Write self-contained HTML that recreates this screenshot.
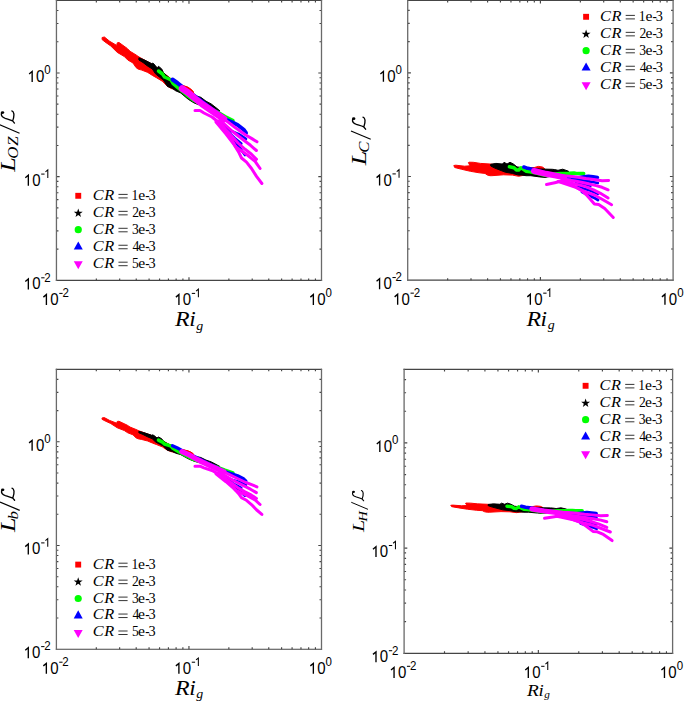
<!DOCTYPE html>
<html><head><meta charset="utf-8"><style>
html,body{margin:0;padding:0;background:#fff;width:685px;height:701px;overflow:hidden}
svg{display:block}
text{font-kerning:none}
</style></head><body>
<svg width="685" height="701" viewBox="0 0 685 701">
<rect width="685" height="701" fill="#fff"/>
<polygon points="102.10,37.50 104.40,37.00 109.70,41.30 116.70,45.40 117.30,42.80 119.00,42.50 127.20,48.40 130.10,51.30 136.00,54.90 139.00,57.00 150.00,63.00 160.00,70.00 170.00,78.00 178.00,83.00 182.50,86.00 187.80,87.30 193.00,91.50 193.80,94.20 190.00,95.00 183.00,92.00 176.00,90.00 171.20,88.50 167.00,85.90 162.30,81.20 156.40,77.70 152.40,75.40 147.70,72.40 141.80,70.10 138.00,69.00 136.00,67.50 133.00,63.00 127.80,60.00 124.30,56.50 117.30,52.40 110.80,46.00 105.00,41.90 102.10,39.60" fill="#ff0000" stroke="#ff0000" stroke-width="1" stroke-linejoin="round"/>
<polygon points="138.90,57.80 143.60,59.60 151.80,63.70 152.90,63.10 155.30,65.40 157.00,67.80 158.50,66.30 161.70,68.90 163.40,72.40 166.40,75.40 172.00,80.00 182.00,87.00 195.00,95.50 200.80,97.30 206.00,101.20 211.30,104.00 217.10,108.60 220.00,111.00 212.00,110.00 205.00,106.00 198.00,104.50 194.20,103.00 188.40,99.40 180.80,93.00 175.50,90.70 172.20,88.20 167.50,86.50 163.40,80.00 159.40,77.10 155.30,73.60 152.40,69.00 147.50,66.00 143.00,62.50 138.90,60.00" fill="#000000" stroke="#000000" stroke-width="1" stroke-linejoin="round"/>
<polyline points="158.50,71.00 162.50,74.00 164.50,77.00 168.00,78.50 171.00,80.00 173.00,83.50 177.00,87.00 186.60,95.00 194.00,100.50 205.00,106.00 217.00,111.80 225.00,116.50 233.00,120.50" fill="none" stroke="#00ff00" stroke-width="3.5" stroke-linejoin="round" stroke-linecap="round"/>
<polyline points="172.50,79.50 177.50,83.00 182.00,86.50 190.00,92.50 200.00,100.00 210.00,107.50 219.00,114.00 226.00,119.50 231.80,122.00 237.70,125.00 243.50,129.50 246.00,133.00" fill="none" stroke="#0000ff" stroke-width="4.0" stroke-linejoin="round" stroke-linecap="round"/>
<polyline points="222.00,124.00 231.80,131.30 238.80,134.20 245.90,138.90" fill="none" stroke="#0000ff" stroke-width="2.8" stroke-linejoin="round" stroke-linecap="round"/>
<polyline points="226.00,130.00 234.80,138.30 241.20,143.50" fill="none" stroke="#0000ff" stroke-width="2.8" stroke-linejoin="round" stroke-linecap="round"/>
<polyline points="232.00,138.00 238.50,146.00 242.00,151.00 245.00,155.00" fill="none" stroke="#0000ff" stroke-width="2.8" stroke-linejoin="round" stroke-linecap="round"/>
<polygon points="181.50,86.50 184.00,85.80 187.80,87.20 191.00,89.20 193.20,91.50 193.80,94.20 190.00,93.50 185.00,91.00" fill="#ff0000" stroke="#ff0000" stroke-width="1" stroke-linejoin="round"/>
<polyline points="182.00,88.50 188.00,92.50 195.00,98.50 202.00,104.00 210.00,109.50 218.00,115.00 224.00,119.00" fill="none" stroke="#ff00ff" stroke-width="6.5" stroke-linejoin="round" stroke-linecap="round"/>
<polyline points="222.00,118.00 228.00,122.00 234.80,127.20 245.30,134.80 252.30,138.90 257.00,141.80" fill="none" stroke="#ff00ff" stroke-width="3.0" stroke-linejoin="round" stroke-linecap="round"/>
<polyline points="220.00,120.00 232.00,131.00 243.50,140.00 250.50,145.30 256.40,150.50" fill="none" stroke="#ff00ff" stroke-width="3.0" stroke-linejoin="round" stroke-linecap="round"/>
<polyline points="218.00,121.00 228.00,132.00 238.00,143.00 245.10,149.30 251.50,154.30 256.50,159.30" fill="none" stroke="#ff00ff" stroke-width="3.0" stroke-linejoin="round" stroke-linecap="round"/>
<polyline points="216.00,122.00 226.00,134.00 236.00,147.00 247.30,155.00 255.10,161.40 260.10,168.50" fill="none" stroke="#ff00ff" stroke-width="3.0" stroke-linejoin="round" stroke-linecap="round"/>
<polyline points="195.00,110.50 200.00,110.50 204.00,113.00 212.00,117.00 217.00,121.00 222.40,126.00 227.00,132.00 232.00,140.00 235.50,147.00 238.70,152.10 241.50,158.00 246.50,162.10 251.50,168.50 256.50,176.40 261.90,183.50" fill="none" stroke="#ff00ff" stroke-width="3.0" stroke-linejoin="round" stroke-linecap="round"/>
<path d="M96.34,280.40V278.40M96.34,0.45V2.45M119.68,280.40V278.40M119.68,0.45V2.45M136.24,280.40V278.40M136.24,0.45V2.45M149.08,280.40V278.40M149.08,0.45V2.45M159.57,280.40V278.40M159.57,0.45V2.45M168.45,280.40V278.40M168.45,0.45V2.45M176.13,280.40V278.40M176.13,0.45V2.45M182.91,280.40V278.40M182.91,0.45V2.45M188.98,280.40V277.20M188.98,0.45V3.65M228.87,280.40V278.40M228.87,0.45V2.45M252.21,280.40V278.40M252.21,0.45V2.45M268.76,280.40V278.40M268.76,0.45V2.45M281.61,280.40V278.40M281.61,0.45V2.45M292.10,280.40V278.40M292.10,0.45V2.45M300.97,280.40V278.40M300.97,0.45V2.45M308.66,280.40V278.40M308.66,0.45V2.45M315.44,280.40V278.40M315.44,0.45V2.45M56.45,249.18H58.45M321.50,249.18H319.50M56.45,230.91H58.45M321.50,230.91H319.50M56.45,217.95H58.45M321.50,217.95H319.50M56.45,207.90H58.45M321.50,207.90H319.50M56.45,199.69H58.45M321.50,199.69H319.50M56.45,192.74H58.45M321.50,192.74H319.50M56.45,186.73H58.45M321.50,186.73H319.50M56.45,181.42H58.45M321.50,181.42H319.50M56.45,176.68H59.65M321.50,176.68H318.30M56.45,145.45H58.45M321.50,145.45H319.50M56.45,127.19H58.45M321.50,127.19H319.50M56.45,114.23H58.45M321.50,114.23H319.50M56.45,104.17H58.45M321.50,104.17H319.50M56.45,95.96H58.45M321.50,95.96H319.50M56.45,89.02H58.45M321.50,89.02H319.50M56.45,83.00H58.45M321.50,83.00H319.50M56.45,77.70H58.45M321.50,77.70H319.50M56.45,72.95H59.65M321.50,72.95H318.30M56.45,41.73H58.45M321.50,41.73H319.50M56.45,23.46H58.45M321.50,23.46H319.50M56.45,10.50H58.45M321.50,10.50H319.50" stroke="#454545" stroke-width="1.15" fill="none"/>
<path d="M55.85,0.45H322.10M55.85,280.40H322.10" stroke="#454545" stroke-width="1.15" fill="none"/>
<path d="M56.45,-0.15V281.00M321.50,-0.15V281.00" stroke="#6a6a6a" stroke-width="1.3" fill="none"/>
<g transform="translate(41.90,305.00) scale(1,1.04)"><path d="M1.47,-7.58L4.50,-10.02V-0.00" stroke="#000" stroke-width="1.35" fill="none" stroke-linejoin="miter"/><text x="8.34" y="0" font-family='"Liberation Sans", sans-serif' font-size="15" fill="#000">0</text><rect x="17.37" y="-11.64" width="3.33" height="0.98" fill="#000"/><text x="20.51" y="-7.50" font-family='"Liberation Sans", sans-serif' font-size="11.5" fill="#000">2</text></g>
<g transform="translate(23.84,289.40) scale(1,1.04)"><path d="M1.47,-7.58L4.50,-10.02V-0.00" stroke="#000" stroke-width="1.35" fill="none" stroke-linejoin="miter"/><text x="8.34" y="0" font-family='"Liberation Sans", sans-serif' font-size="15" fill="#000">0</text><rect x="17.37" y="-11.64" width="3.33" height="0.98" fill="#000"/><text x="20.51" y="-7.50" font-family='"Liberation Sans", sans-serif' font-size="11.5" fill="#000">2</text></g>
<g transform="translate(174.42,305.00) scale(1,1.04)"><path d="M1.47,-7.58L4.50,-10.02V-0.00" stroke="#000" stroke-width="1.35" fill="none" stroke-linejoin="miter"/><text x="8.34" y="0" font-family='"Liberation Sans", sans-serif' font-size="15" fill="#000">0</text><rect x="17.37" y="-11.64" width="3.33" height="0.98" fill="#000"/><path d="M21.64,-13.31L23.96,-15.18V-7.50" stroke="#000" stroke-width="1.03" fill="none" stroke-linejoin="miter"/></g>
<g transform="translate(23.84,185.68) scale(1,1.04)"><path d="M1.47,-7.58L4.50,-10.02V-0.00" stroke="#000" stroke-width="1.35" fill="none" stroke-linejoin="miter"/><text x="8.34" y="0" font-family='"Liberation Sans", sans-serif' font-size="15" fill="#000">0</text><rect x="17.37" y="-11.64" width="3.33" height="0.98" fill="#000"/><path d="M21.64,-13.31L23.96,-15.18V-7.50" stroke="#000" stroke-width="1.03" fill="none" stroke-linejoin="miter"/></g>
<g transform="translate(308.86,305.00) scale(1,1.04)"><path d="M1.47,-7.58L4.50,-10.02V-0.00" stroke="#000" stroke-width="1.35" fill="none" stroke-linejoin="miter"/><text x="8.34" y="0" font-family='"Liberation Sans", sans-serif' font-size="15" fill="#000">0</text><text x="16.68" y="-7.50" font-family='"Liberation Sans", sans-serif' font-size="11.5" fill="#000">0</text></g>
<g transform="translate(27.67,81.95) scale(1,1.04)"><path d="M1.47,-7.58L4.50,-10.02V-0.00" stroke="#000" stroke-width="1.35" fill="none" stroke-linejoin="miter"/><text x="8.34" y="0" font-family='"Liberation Sans", sans-serif' font-size="15" fill="#000">0</text><text x="16.68" y="-7.50" font-family='"Liberation Sans", sans-serif' font-size="11.5" fill="#000">0</text></g>
<g transform="translate(174.97,326.40) scale(1.1,1.0)"><text x="0.12" y="0" font-family='"Liberation Serif", serif' font-style="italic" font-size="21.7" fill="#000" >R</text></g>
<g transform="translate(190.47,326.40) scale(1.07,1.0)"><text x="-1.21" y="0" font-family='"Liberation Serif", serif' font-style="italic" font-size="21.7" fill="#000" >i</text></g>
<g transform="translate(196.28,329.60) scale(1.03,1.0)"><text x="-0.01" y="0" font-family='"Liberation Serif", serif' font-style="italic" font-size="13.5" fill="#000" >g</text></g>
<g transform="translate(14.85,171.97) rotate(-90) scale(1.0)"><g transform="translate(0.00,0.00) scale(1.25,1.0)"><text x="0.24" y="0" font-family='"Liberation Serif", serif' font-style="italic" font-size="20.8" fill="#000" >L</text></g>
<g transform="translate(14.00,3.00) scale(1.12,1.0)"><text x="-0.75" y="0" font-family='"Liberation Serif", serif' font-style="italic" font-size="15" fill="#000" >O</text></g>
<g transform="translate(26.30,3.00) scale(1.12,1.0)"><text x="-0.18" y="0" font-family='"Liberation Serif", serif' font-style="italic" font-size="15" fill="#000" >Z</text></g>
<path d="M38.80,4.7 L47.10,-15" stroke="#000" stroke-width="1.15" fill="none"/>
<g transform="translate(48.80,0)"><path d="M9.8,-13.4 C7.5,-13.9 5.6,-12 4.8,-9.6 C4.0,-7 3.2,-4 2.3,-2.2 M2.3,-2.2 C4.5,-1.4 7.5,-0.8 9.3,-1.0 C10.8,-1.2 11.9,-2 12.2,-3.0 M2.3,-2.2 L0.1,-0.4" stroke="#000" stroke-width="1.35" fill="none" stroke-linecap="round"/><ellipse cx="10.6" cy="-12.3" rx="1.4" ry="1.7" fill="#000"/></g></g>
<rect x="75.30" y="192.85" width="5.9" height="5.9" fill="#ff0000"/>
<g transform="translate(93.75,199.80) scale(1.2,1.0)"><text x="-0.76" y="0" font-family='"Liberation Serif", serif' font-style="italic" font-size="13.6" fill="#000" >C</text></g>
<g transform="translate(104.25,199.80) scale(1.2,1.0)"><text x="0.07" y="0" font-family='"Liberation Serif", serif' font-style="italic" font-size="13.6" fill="#000" >R</text></g>
<path d="M118.45,194.40h9.2M118.45,197.90h9.2" stroke="#111" stroke-width="0.85"/>
<text x="131.55" y="199.80" font-family='"Liberation Serif", serif' font-style="normal" font-size="13.6" fill="#000" >1</text>
<g transform="translate(138.75,199.80) scale(1.15,1.0)"><text x="-0.53" y="0" font-family='"Liberation Serif", serif' font-style="normal" font-size="13.6" fill="#000" >e</text></g>
<g transform="translate(145.65,199.80) scale(0.95,1.0)"><text x="-0.50" y="0" font-family='"Liberation Serif", serif' font-style="normal" font-size="13.6" fill="#000" >-</text></g>
<g transform="translate(149.15,199.80) scale(1.05,1.0)"><text x="-0.65" y="0" font-family='"Liberation Serif", serif' font-style="normal" font-size="13.6" fill="#000" >3</text></g>
<polygon points="78.25,208.45 79.36,211.63 82.72,211.70 80.04,213.73 81.01,216.95 78.25,215.03 75.49,216.95 76.46,213.73 73.78,211.70 77.14,211.63" fill="#000"/>
<g transform="translate(93.75,216.75) scale(1.2,1.0)"><text x="-0.76" y="0" font-family='"Liberation Serif", serif' font-style="italic" font-size="13.6" fill="#000" >C</text></g>
<g transform="translate(104.25,216.75) scale(1.2,1.0)"><text x="0.07" y="0" font-family='"Liberation Serif", serif' font-style="italic" font-size="13.6" fill="#000" >R</text></g>
<path d="M118.45,211.35h9.2M118.45,214.85h9.2" stroke="#111" stroke-width="0.85"/>
<text x="132.15" y="216.75" font-family='"Liberation Serif", serif' font-style="normal" font-size="13.6" fill="#000" >2</text>
<g transform="translate(138.75,216.75) scale(1.15,1.0)"><text x="-0.53" y="0" font-family='"Liberation Serif", serif' font-style="normal" font-size="13.6" fill="#000" >e</text></g>
<g transform="translate(145.65,216.75) scale(0.95,1.0)"><text x="-0.50" y="0" font-family='"Liberation Serif", serif' font-style="normal" font-size="13.6" fill="#000" >-</text></g>
<g transform="translate(149.15,216.75) scale(1.05,1.0)"><text x="-0.65" y="0" font-family='"Liberation Serif", serif' font-style="normal" font-size="13.6" fill="#000" >3</text></g>
<circle cx="78.25" cy="229.70" r="3.6" fill="#00ff00"/>
<g transform="translate(93.75,233.70) scale(1.2,1.0)"><text x="-0.76" y="0" font-family='"Liberation Serif", serif' font-style="italic" font-size="13.6" fill="#000" >C</text></g>
<g transform="translate(104.25,233.70) scale(1.2,1.0)"><text x="0.07" y="0" font-family='"Liberation Serif", serif' font-style="italic" font-size="13.6" fill="#000" >R</text></g>
<path d="M118.45,228.30h9.2M118.45,231.80h9.2" stroke="#111" stroke-width="0.85"/>
<text x="132.10" y="233.70" font-family='"Liberation Serif", serif' font-style="normal" font-size="13.6" fill="#000" >3</text>
<g transform="translate(138.75,233.70) scale(1.15,1.0)"><text x="-0.53" y="0" font-family='"Liberation Serif", serif' font-style="normal" font-size="13.6" fill="#000" >e</text></g>
<g transform="translate(145.65,233.70) scale(0.95,1.0)"><text x="-0.50" y="0" font-family='"Liberation Serif", serif' font-style="normal" font-size="13.6" fill="#000" >-</text></g>
<g transform="translate(149.15,233.70) scale(1.05,1.0)"><text x="-0.65" y="0" font-family='"Liberation Serif", serif' font-style="normal" font-size="13.6" fill="#000" >3</text></g>
<polygon points="73.75,249.60 82.75,249.60 78.25,241.50" fill="#0000ff"/>
<g transform="translate(93.75,250.65) scale(1.2,1.0)"><text x="-0.76" y="0" font-family='"Liberation Serif", serif' font-style="italic" font-size="13.6" fill="#000" >C</text></g>
<g transform="translate(104.25,250.65) scale(1.2,1.0)"><text x="0.07" y="0" font-family='"Liberation Serif", serif' font-style="italic" font-size="13.6" fill="#000" >R</text></g>
<path d="M118.45,245.25h9.2M118.45,248.75h9.2" stroke="#111" stroke-width="0.85"/>
<text x="132.48" y="250.65" font-family='"Liberation Serif", serif' font-style="normal" font-size="13.6" fill="#000" >4</text>
<g transform="translate(138.75,250.65) scale(1.15,1.0)"><text x="-0.53" y="0" font-family='"Liberation Serif", serif' font-style="normal" font-size="13.6" fill="#000" >e</text></g>
<g transform="translate(145.65,250.65) scale(0.95,1.0)"><text x="-0.50" y="0" font-family='"Liberation Serif", serif' font-style="normal" font-size="13.6" fill="#000" >-</text></g>
<g transform="translate(149.15,250.65) scale(1.05,1.0)"><text x="-0.65" y="0" font-family='"Liberation Serif", serif' font-style="normal" font-size="13.6" fill="#000" >3</text></g>
<polygon points="73.75,261.20 82.75,261.20 78.25,269.20" fill="#ff00ff"/>
<g transform="translate(93.75,267.60) scale(1.2,1.0)"><text x="-0.76" y="0" font-family='"Liberation Serif", serif' font-style="italic" font-size="13.6" fill="#000" >C</text></g>
<g transform="translate(104.25,267.60) scale(1.2,1.0)"><text x="0.07" y="0" font-family='"Liberation Serif", serif' font-style="italic" font-size="13.6" fill="#000" >R</text></g>
<path d="M118.45,262.20h9.2M118.45,265.70h9.2" stroke="#111" stroke-width="0.85"/>
<text x="131.96" y="267.60" font-family='"Liberation Serif", serif' font-style="normal" font-size="13.6" fill="#000" >5</text>
<g transform="translate(138.75,267.60) scale(1.15,1.0)"><text x="-0.53" y="0" font-family='"Liberation Serif", serif' font-style="normal" font-size="13.6" fill="#000" >e</text></g>
<g transform="translate(145.65,267.60) scale(0.95,1.0)"><text x="-0.50" y="0" font-family='"Liberation Serif", serif' font-style="normal" font-size="13.6" fill="#000" >-</text></g>
<g transform="translate(149.15,267.60) scale(1.05,1.0)"><text x="-0.65" y="0" font-family='"Liberation Serif", serif' font-style="normal" font-size="13.6" fill="#000" >3</text></g>
<polygon points="453.80,165.50 455.80,165.20 464.60,166.20 470.00,165.80 468.40,162.60 469.00,162.20 473.40,162.30 480.40,163.40 490.00,164.00 495.00,164.50 505.00,166.00 515.00,167.50 525.00,168.50 534.30,167.50 538.40,166.40 542.40,167.00 544.80,168.70 543.00,170.00 530.00,174.00 518.70,176.30 512.30,175.10 503.50,174.80 491.80,175.70 490.00,175.70 487.40,175.10 485.00,173.40 479.20,172.80 470.40,171.30 461.70,169.30 454.70,167.50" fill="#ff0000" stroke="#ff0000" stroke-width="1" stroke-linejoin="round"/>
<polygon points="490.70,164.30 495.90,163.40 502.40,164.00 504.10,162.30 507.00,164.00 510.00,162.30 513.40,164.00 517.00,166.90 525.00,168.00 540.00,169.00 552.40,169.30 554.70,169.60 558.00,170.30 562.70,169.20 568.50,171.20 568.00,174.00 560.00,174.50 545.00,177.40 539.50,176.90 530.80,175.70 526.10,175.70 522.00,175.10 518.70,175.10 512.30,173.40 505.30,172.20 494.80,168.10 490.70,166.00" fill="#000000" stroke="#000000" stroke-width="1" stroke-linejoin="round"/>
<polyline points="509.40,166.80 514.00,167.70 516.40,169.90 518.70,170.10 521.00,167.80 523.40,169.30 526.00,171.20 530.00,171.80 537.00,173.30 545.00,175.30 550.00,174.50 560.00,173.50 569.00,173.30 574.00,173.00 577.30,173.60 583.70,173.60" fill="none" stroke="#00ff00" stroke-width="3.5" stroke-linejoin="round" stroke-linecap="round"/>
<polyline points="523.80,167.00 527.80,168.30 533.70,169.50 545.00,172.80 560.00,176.00 570.00,177.30 578.00,177.80 584.00,176.80 588.40,176.20 593.00,176.80 597.50,177.50" fill="none" stroke="#0000ff" stroke-width="3.5" stroke-linejoin="round" stroke-linecap="round"/>
<polyline points="572.60,179.20 581.40,180.40 590.00,181.50 597.80,183.00" fill="none" stroke="#0000ff" stroke-width="2.8" stroke-linejoin="round" stroke-linecap="round"/>
<polyline points="576.00,182.00 581.40,183.90 590.70,185.60" fill="none" stroke="#0000ff" stroke-width="2.8" stroke-linejoin="round" stroke-linecap="round"/>
<polyline points="578.00,186.00 583.10,188.50 590.00,190.50 597.80,193.70" fill="none" stroke="#0000ff" stroke-width="2.8" stroke-linejoin="round" stroke-linecap="round"/>
<polyline points="582.00,192.00 588.40,195.00 595.40,198.50 598.00,200.00" fill="none" stroke="#0000ff" stroke-width="2.8" stroke-linejoin="round" stroke-linecap="round"/>
<polyline points="534.00,171.00 546.00,173.80 556.00,175.60 564.00,177.40" fill="none" stroke="#ff00ff" stroke-width="6.0" stroke-linejoin="round" stroke-linecap="round"/>
<polyline points="556.00,175.60 569.70,176.20 578.00,177.20 586.00,178.60 593.60,179.60 602.10,180.80 608.60,180.40" fill="none" stroke="#ff00ff" stroke-width="3.0" stroke-linejoin="round" stroke-linecap="round"/>
<polyline points="562.00,179.00 575.00,181.00 585.00,183.00 596.10,185.60 602.10,187.30 608.10,189.80" fill="none" stroke="#ff00ff" stroke-width="3.0" stroke-linejoin="round" stroke-linecap="round"/>
<polyline points="562.00,181.00 575.00,184.00 585.00,186.40 593.60,189.80 600.40,193.30 608.10,198.00" fill="none" stroke="#ff00ff" stroke-width="3.0" stroke-linejoin="round" stroke-linecap="round"/>
<polyline points="560.00,182.00 575.00,187.00 585.00,191.60 594.40,195.00 602.10,199.30 611.60,204.80" fill="none" stroke="#ff00ff" stroke-width="3.0" stroke-linejoin="round" stroke-linecap="round"/>
<polyline points="558.00,181.60 566.80,181.80 569.70,184.00 575.50,187.00 581.40,190.40 587.20,195.70 590.10,199.00 594.40,204.00 598.70,204.50 604.70,208.50 613.30,217.50" fill="none" stroke="#ff00ff" stroke-width="3.0" stroke-linejoin="round" stroke-linecap="round"/>
<polyline points="546.50,184.50 554.70,182.70 562.00,181.00 570.00,180.00" fill="none" stroke="#ff00ff" stroke-width="3.0" stroke-linejoin="round" stroke-linecap="round"/>
<path d="M447.65,280.15V278.15M447.65,0.40V2.40M471.01,280.15V278.15M471.01,0.40V2.40M487.59,280.15V278.15M487.59,0.40V2.40M500.45,280.15V278.15M500.45,0.40V2.40M510.96,280.15V278.15M510.96,0.40V2.40M519.84,280.15V278.15M519.84,0.40V2.40M527.54,280.15V278.15M527.54,0.40V2.40M534.33,280.15V278.15M534.33,0.40V2.40M540.40,280.15V276.95M540.40,0.40V3.60M580.35,280.15V278.15M580.35,0.40V2.40M603.71,280.15V278.15M603.71,0.40V2.40M620.29,280.15V278.15M620.29,0.40V2.40M633.15,280.15V278.15M633.15,0.40V2.40M643.66,280.15V278.15M643.66,0.40V2.40M652.54,280.15V278.15M652.54,0.40V2.40M660.24,280.15V278.15M660.24,0.40V2.40M667.03,280.15V278.15M667.03,0.40V2.40M407.70,248.95H409.70M673.10,248.95H671.10M407.70,230.70H409.70M673.10,230.70H671.10M407.70,217.75H409.70M673.10,217.75H671.10M407.70,207.70H409.70M673.10,207.70H671.10M407.70,199.49H409.70M673.10,199.49H671.10M407.70,192.56H409.70M673.10,192.56H671.10M407.70,186.54H409.70M673.10,186.54H671.10M407.70,181.24H409.70M673.10,181.24H671.10M407.70,176.50H410.90M673.10,176.50H669.90M407.70,145.30H409.70M673.10,145.30H671.10M407.70,127.05H409.70M673.10,127.05H671.10M407.70,114.10H409.70M673.10,114.10H671.10M407.70,104.05H409.70M673.10,104.05H671.10M407.70,95.84H409.70M673.10,95.84H671.10M407.70,88.90H409.70M673.10,88.90H671.10M407.70,82.89H409.70M673.10,82.89H671.10M407.70,77.59H409.70M673.10,77.59H671.10M407.70,72.85H410.90M673.10,72.85H669.90M407.70,41.65H409.70M673.10,41.65H671.10M407.70,23.39H409.70M673.10,23.39H671.10M407.70,10.44H409.70M673.10,10.44H671.10" stroke="#454545" stroke-width="1.15" fill="none"/>
<path d="M407.10,0.40H673.70M407.10,280.15H673.70" stroke="#454545" stroke-width="1.15" fill="none"/>
<path d="M407.70,-0.20V280.75M673.10,-0.20V280.75" stroke="#6a6a6a" stroke-width="1.3" fill="none"/>
<g transform="translate(393.15,304.75) scale(1,1.04)"><path d="M1.47,-7.58L4.50,-10.02V-0.00" stroke="#000" stroke-width="1.35" fill="none" stroke-linejoin="miter"/><text x="8.34" y="0" font-family='"Liberation Sans", sans-serif' font-size="15" fill="#000">0</text><rect x="17.37" y="-11.64" width="3.33" height="0.98" fill="#000"/><text x="20.51" y="-7.50" font-family='"Liberation Sans", sans-serif' font-size="11.5" fill="#000">2</text></g>
<g transform="translate(375.09,289.15) scale(1,1.04)"><path d="M1.47,-7.58L4.50,-10.02V-0.00" stroke="#000" stroke-width="1.35" fill="none" stroke-linejoin="miter"/><text x="8.34" y="0" font-family='"Liberation Sans", sans-serif' font-size="15" fill="#000">0</text><rect x="17.37" y="-11.64" width="3.33" height="0.98" fill="#000"/><text x="20.51" y="-7.50" font-family='"Liberation Sans", sans-serif' font-size="11.5" fill="#000">2</text></g>
<g transform="translate(525.85,304.75) scale(1,1.04)"><path d="M1.47,-7.58L4.50,-10.02V-0.00" stroke="#000" stroke-width="1.35" fill="none" stroke-linejoin="miter"/><text x="8.34" y="0" font-family='"Liberation Sans", sans-serif' font-size="15" fill="#000">0</text><rect x="17.37" y="-11.64" width="3.33" height="0.98" fill="#000"/><path d="M21.64,-13.31L23.96,-15.18V-7.50" stroke="#000" stroke-width="1.03" fill="none" stroke-linejoin="miter"/></g>
<g transform="translate(375.09,185.50) scale(1,1.04)"><path d="M1.47,-7.58L4.50,-10.02V-0.00" stroke="#000" stroke-width="1.35" fill="none" stroke-linejoin="miter"/><text x="8.34" y="0" font-family='"Liberation Sans", sans-serif' font-size="15" fill="#000">0</text><rect x="17.37" y="-11.64" width="3.33" height="0.98" fill="#000"/><path d="M21.64,-13.31L23.96,-15.18V-7.50" stroke="#000" stroke-width="1.03" fill="none" stroke-linejoin="miter"/></g>
<g transform="translate(660.46,304.75) scale(1,1.04)"><path d="M1.47,-7.58L4.50,-10.02V-0.00" stroke="#000" stroke-width="1.35" fill="none" stroke-linejoin="miter"/><text x="8.34" y="0" font-family='"Liberation Sans", sans-serif' font-size="15" fill="#000">0</text><text x="16.68" y="-7.50" font-family='"Liberation Sans", sans-serif' font-size="11.5" fill="#000">0</text></g>
<g transform="translate(378.92,81.85) scale(1,1.04)"><path d="M1.47,-7.58L4.50,-10.02V-0.00" stroke="#000" stroke-width="1.35" fill="none" stroke-linejoin="miter"/><text x="8.34" y="0" font-family='"Liberation Sans", sans-serif' font-size="15" fill="#000">0</text><text x="16.68" y="-7.50" font-family='"Liberation Sans", sans-serif' font-size="11.5" fill="#000">0</text></g>
<g transform="translate(526.40,326.15) scale(1.1,1.0)"><text x="0.12" y="0" font-family='"Liberation Serif", serif' font-style="italic" font-size="21.7" fill="#000" >R</text></g>
<g transform="translate(541.90,326.15) scale(1.07,1.0)"><text x="-1.21" y="0" font-family='"Liberation Serif", serif' font-style="italic" font-size="21.7" fill="#000" >i</text></g>
<g transform="translate(547.70,329.35) scale(1.03,1.0)"><text x="-0.01" y="0" font-family='"Liberation Serif", serif' font-style="italic" font-size="13.5" fill="#000" >g</text></g>
<g transform="translate(366.00,165.57) rotate(-90) scale(1.0)"><g transform="translate(0.00,0.00) scale(1.25,1.0)"><text x="0.24" y="0" font-family='"Liberation Serif", serif' font-style="italic" font-size="20.8" fill="#000" >L</text></g>
<g transform="translate(13.70,3.00) scale(1.12,1.0)"><text x="-0.83" y="0" font-family='"Liberation Serif", serif' font-style="italic" font-size="15" fill="#000" >C</text></g>
<path d="M26.30,4.7 L34.60,-15" stroke="#000" stroke-width="1.15" fill="none"/>
<g transform="translate(36.30,0)"><path d="M9.8,-13.4 C7.5,-13.9 5.6,-12 4.8,-9.6 C4.0,-7 3.2,-4 2.3,-2.2 M2.3,-2.2 C4.5,-1.4 7.5,-0.8 9.3,-1.0 C10.8,-1.2 11.9,-2 12.2,-3.0 M2.3,-2.2 L0.1,-0.4" stroke="#000" stroke-width="1.35" fill="none" stroke-linecap="round"/><ellipse cx="10.6" cy="-12.3" rx="1.4" ry="1.7" fill="#000"/></g></g>
<rect x="583.15" y="13.85" width="5.9" height="5.9" fill="#ff0000"/>
<g transform="translate(601.00,20.80) scale(1.2,1.0)"><text x="-0.76" y="0" font-family='"Liberation Serif", serif' font-style="italic" font-size="13.6" fill="#000" >C</text></g>
<g transform="translate(611.50,20.80) scale(1.2,1.0)"><text x="0.07" y="0" font-family='"Liberation Serif", serif' font-style="italic" font-size="13.6" fill="#000" >R</text></g>
<path d="M625.70,15.40h9.2M625.70,18.90h9.2" stroke="#111" stroke-width="0.85"/>
<text x="638.80" y="20.80" font-family='"Liberation Serif", serif' font-style="normal" font-size="13.6" fill="#000" >1</text>
<g transform="translate(646.00,20.80) scale(1.15,1.0)"><text x="-0.53" y="0" font-family='"Liberation Serif", serif' font-style="normal" font-size="13.6" fill="#000" >e</text></g>
<g transform="translate(652.90,20.80) scale(0.95,1.0)"><text x="-0.50" y="0" font-family='"Liberation Serif", serif' font-style="normal" font-size="13.6" fill="#000" >-</text></g>
<g transform="translate(656.40,20.80) scale(1.05,1.0)"><text x="-0.65" y="0" font-family='"Liberation Serif", serif' font-style="normal" font-size="13.6" fill="#000" >3</text></g>
<polygon points="586.10,29.45 587.21,32.63 590.57,32.70 587.89,34.73 588.86,37.95 586.10,36.03 583.34,37.95 584.31,34.73 581.63,32.70 584.99,32.63" fill="#000"/>
<g transform="translate(601.00,37.75) scale(1.2,1.0)"><text x="-0.76" y="0" font-family='"Liberation Serif", serif' font-style="italic" font-size="13.6" fill="#000" >C</text></g>
<g transform="translate(611.50,37.75) scale(1.2,1.0)"><text x="0.07" y="0" font-family='"Liberation Serif", serif' font-style="italic" font-size="13.6" fill="#000" >R</text></g>
<path d="M625.70,32.35h9.2M625.70,35.85h9.2" stroke="#111" stroke-width="0.85"/>
<text x="639.40" y="37.75" font-family='"Liberation Serif", serif' font-style="normal" font-size="13.6" fill="#000" >2</text>
<g transform="translate(646.00,37.75) scale(1.15,1.0)"><text x="-0.53" y="0" font-family='"Liberation Serif", serif' font-style="normal" font-size="13.6" fill="#000" >e</text></g>
<g transform="translate(652.90,37.75) scale(0.95,1.0)"><text x="-0.50" y="0" font-family='"Liberation Serif", serif' font-style="normal" font-size="13.6" fill="#000" >-</text></g>
<g transform="translate(656.40,37.75) scale(1.05,1.0)"><text x="-0.65" y="0" font-family='"Liberation Serif", serif' font-style="normal" font-size="13.6" fill="#000" >3</text></g>
<circle cx="586.10" cy="50.70" r="3.6" fill="#00ff00"/>
<g transform="translate(601.00,54.70) scale(1.2,1.0)"><text x="-0.76" y="0" font-family='"Liberation Serif", serif' font-style="italic" font-size="13.6" fill="#000" >C</text></g>
<g transform="translate(611.50,54.70) scale(1.2,1.0)"><text x="0.07" y="0" font-family='"Liberation Serif", serif' font-style="italic" font-size="13.6" fill="#000" >R</text></g>
<path d="M625.70,49.30h9.2M625.70,52.80h9.2" stroke="#111" stroke-width="0.85"/>
<text x="639.35" y="54.70" font-family='"Liberation Serif", serif' font-style="normal" font-size="13.6" fill="#000" >3</text>
<g transform="translate(646.00,54.70) scale(1.15,1.0)"><text x="-0.53" y="0" font-family='"Liberation Serif", serif' font-style="normal" font-size="13.6" fill="#000" >e</text></g>
<g transform="translate(652.90,54.70) scale(0.95,1.0)"><text x="-0.50" y="0" font-family='"Liberation Serif", serif' font-style="normal" font-size="13.6" fill="#000" >-</text></g>
<g transform="translate(656.40,54.70) scale(1.05,1.0)"><text x="-0.65" y="0" font-family='"Liberation Serif", serif' font-style="normal" font-size="13.6" fill="#000" >3</text></g>
<polygon points="581.60,70.60 590.60,70.60 586.10,62.50" fill="#0000ff"/>
<g transform="translate(601.00,71.65) scale(1.2,1.0)"><text x="-0.76" y="0" font-family='"Liberation Serif", serif' font-style="italic" font-size="13.6" fill="#000" >C</text></g>
<g transform="translate(611.50,71.65) scale(1.2,1.0)"><text x="0.07" y="0" font-family='"Liberation Serif", serif' font-style="italic" font-size="13.6" fill="#000" >R</text></g>
<path d="M625.70,66.25h9.2M625.70,69.75h9.2" stroke="#111" stroke-width="0.85"/>
<text x="639.73" y="71.65" font-family='"Liberation Serif", serif' font-style="normal" font-size="13.6" fill="#000" >4</text>
<g transform="translate(646.00,71.65) scale(1.15,1.0)"><text x="-0.53" y="0" font-family='"Liberation Serif", serif' font-style="normal" font-size="13.6" fill="#000" >e</text></g>
<g transform="translate(652.90,71.65) scale(0.95,1.0)"><text x="-0.50" y="0" font-family='"Liberation Serif", serif' font-style="normal" font-size="13.6" fill="#000" >-</text></g>
<g transform="translate(656.40,71.65) scale(1.05,1.0)"><text x="-0.65" y="0" font-family='"Liberation Serif", serif' font-style="normal" font-size="13.6" fill="#000" >3</text></g>
<polygon points="581.60,82.20 590.60,82.20 586.10,90.20" fill="#ff00ff"/>
<g transform="translate(601.00,88.60) scale(1.2,1.0)"><text x="-0.76" y="0" font-family='"Liberation Serif", serif' font-style="italic" font-size="13.6" fill="#000" >C</text></g>
<g transform="translate(611.50,88.60) scale(1.2,1.0)"><text x="0.07" y="0" font-family='"Liberation Serif", serif' font-style="italic" font-size="13.6" fill="#000" >R</text></g>
<path d="M625.70,83.20h9.2M625.70,86.70h9.2" stroke="#111" stroke-width="0.85"/>
<text x="639.21" y="88.60" font-family='"Liberation Serif", serif' font-style="normal" font-size="13.6" fill="#000" >5</text>
<g transform="translate(646.00,88.60) scale(1.15,1.0)"><text x="-0.53" y="0" font-family='"Liberation Serif", serif' font-style="normal" font-size="13.6" fill="#000" >e</text></g>
<g transform="translate(652.90,88.60) scale(0.95,1.0)"><text x="-0.50" y="0" font-family='"Liberation Serif", serif' font-style="normal" font-size="13.6" fill="#000" >-</text></g>
<g transform="translate(656.40,88.60) scale(1.05,1.0)"><text x="-0.65" y="0" font-family='"Liberation Serif", serif' font-style="normal" font-size="13.6" fill="#000" >3</text></g>
<polygon points="102.05,417.94 104.35,417.61 109.65,420.45 116.65,423.16 117.25,421.44 118.95,421.25 127.15,425.14 130.05,427.06 135.95,429.44 138.95,430.83 149.95,434.80 159.95,439.42 169.95,444.71 177.95,448.02 182.45,450.00 187.75,450.86 192.95,453.63 193.75,455.42 189.95,455.95 182.95,453.96 175.95,452.64 171.15,451.65 166.95,449.93 162.25,446.83 156.35,444.51 152.35,442.99 147.65,441.01 141.75,439.49 137.95,438.76 135.95,437.77 132.95,434.80 127.75,432.81 124.25,430.50 117.25,427.79 110.75,423.56 104.95,420.85 102.05,419.33" fill="#ff0000" stroke="#ff0000" stroke-width="1" stroke-linejoin="round"/>
<polygon points="138.85,431.36 143.55,432.55 151.75,435.26 152.85,434.86 155.25,436.38 156.95,437.97 158.45,436.98 161.65,438.70 163.35,441.01 166.35,442.99 171.95,446.03 181.95,450.66 194.95,456.28 200.75,457.47 205.95,460.05 211.25,461.90 217.05,464.94 219.95,466.52 211.95,465.86 204.95,463.22 197.95,462.23 194.15,461.24 188.35,458.86 180.75,454.63 175.45,453.11 172.15,451.45 167.45,450.33 163.35,446.03 159.35,444.12 155.25,441.80 152.35,438.76 147.45,436.78 142.95,434.47 138.85,432.81" fill="#000000" stroke="#000000" stroke-width="1" stroke-linejoin="round"/>
<polyline points="158.45,440.08 162.45,442.07 164.45,444.05 167.95,445.04 170.95,446.03 172.95,448.35 176.95,450.66 186.55,455.95 193.95,459.58 204.95,463.22 216.95,467.05 224.95,470.16 232.95,472.80" fill="none" stroke="#00ff00" stroke-width="3.5" stroke-linejoin="round" stroke-linecap="round"/>
<polyline points="172.45,445.70 177.45,448.02 181.95,450.33 189.95,454.30 199.95,459.25 209.95,464.21 218.95,468.51 225.95,472.14 231.75,473.79 237.65,475.78 243.45,478.75 245.95,481.07" fill="none" stroke="#0000ff" stroke-width="3.2" stroke-linejoin="round" stroke-linecap="round"/>
<polyline points="221.95,475.12 231.75,479.94 238.75,481.86 245.85,484.97" fill="none" stroke="#0000ff" stroke-width="2.8" stroke-linejoin="round" stroke-linecap="round"/>
<polyline points="225.95,479.08 234.75,484.57 241.15,488.01" fill="none" stroke="#0000ff" stroke-width="2.8" stroke-linejoin="round" stroke-linecap="round"/>
<polyline points="231.95,484.37 238.45,489.66 241.95,492.96 244.95,495.61" fill="none" stroke="#0000ff" stroke-width="2.8" stroke-linejoin="round" stroke-linecap="round"/>
<polygon points="181.45,450.33 183.95,449.87 187.75,450.79 190.95,452.11 193.15,453.63 193.75,455.42 189.95,454.96 184.95,453.30" fill="#ff0000" stroke="#ff0000" stroke-width="1" stroke-linejoin="round"/>
<polyline points="181.95,451.65 187.95,454.30 194.95,458.26 201.95,461.90 209.95,465.53 217.95,469.17 223.95,471.81" fill="none" stroke="#ff00ff" stroke-width="5.2" stroke-linejoin="round" stroke-linecap="round"/>
<polyline points="221.95,471.15 227.95,473.79 234.75,477.23 245.25,482.26 252.25,484.97 256.95,486.88" fill="none" stroke="#ff00ff" stroke-width="3.0" stroke-linejoin="round" stroke-linecap="round"/>
<polyline points="219.95,472.47 231.95,479.74 243.45,485.69 250.45,489.20 256.35,492.63" fill="none" stroke="#ff00ff" stroke-width="3.0" stroke-linejoin="round" stroke-linecap="round"/>
<polyline points="217.95,473.13 227.95,480.40 237.95,487.68 245.05,491.84 251.45,495.14 256.45,498.45" fill="none" stroke="#ff00ff" stroke-width="3.0" stroke-linejoin="round" stroke-linecap="round"/>
<polyline points="215.95,473.79 225.95,481.73 235.95,490.32 247.25,495.61 255.05,499.84 260.05,504.53" fill="none" stroke="#ff00ff" stroke-width="3.0" stroke-linejoin="round" stroke-linecap="round"/>
<polyline points="194.95,466.19 199.95,466.19 203.95,467.85 211.95,470.49 216.95,473.13 222.35,476.44 226.95,480.40 231.95,485.69 235.45,490.32 238.65,493.69 241.45,497.59 246.45,500.30 251.45,504.53 256.45,509.75 261.85,514.45" fill="none" stroke="#ff00ff" stroke-width="3.0" stroke-linejoin="round" stroke-linecap="round"/>
<path d="M96.30,649.20V647.20M96.30,369.30V371.30M119.64,649.20V647.20M119.64,369.30V371.30M136.20,649.20V647.20M136.20,369.30V371.30M149.05,649.20V647.20M149.05,369.30V371.30M159.54,649.20V647.20M159.54,369.30V371.30M168.42,649.20V647.20M168.42,369.30V371.30M176.10,649.20V647.20M176.10,369.30V371.30M182.88,649.20V647.20M182.88,369.30V371.30M188.95,649.20V646.00M188.95,369.30V372.50M228.85,649.20V647.20M228.85,369.30V371.30M252.19,649.20V647.20M252.19,369.30V371.30M268.75,649.20V647.20M268.75,369.30V371.30M281.60,649.20V647.20M281.60,369.30V371.30M292.09,649.20V647.20M292.09,369.30V371.30M300.97,649.20V647.20M300.97,369.30V371.30M308.65,649.20V647.20M308.65,369.30V371.30M315.43,649.20V647.20M315.43,369.30V371.30M56.40,617.98H58.40M321.50,617.98H319.50M56.40,599.72H58.40M321.50,599.72H319.50M56.40,586.76H58.40M321.50,586.76H319.50M56.40,576.71H58.40M321.50,576.71H319.50M56.40,568.50H58.40M321.50,568.50H319.50M56.40,561.56H58.40M321.50,561.56H319.50M56.40,555.54H58.40M321.50,555.54H319.50M56.40,550.24H58.40M321.50,550.24H319.50M56.40,545.49H59.60M321.50,545.49H318.30M56.40,514.28H58.40M321.50,514.28H319.50M56.40,496.01H58.40M321.50,496.01H319.50M56.40,483.06H58.40M321.50,483.06H319.50M56.40,473.01H58.40M321.50,473.01H319.50M56.40,464.79H58.40M321.50,464.79H319.50M56.40,457.85H58.40M321.50,457.85H319.50M56.40,451.84H58.40M321.50,451.84H319.50M56.40,446.53H58.40M321.50,446.53H319.50M56.40,441.79H59.60M321.50,441.79H318.30M56.40,410.57H58.40M321.50,410.57H319.50M56.40,392.31H58.40M321.50,392.31H319.50M56.40,379.35H58.40M321.50,379.35H319.50" stroke="#454545" stroke-width="1.15" fill="none"/>
<path d="M55.80,369.30H322.10M55.80,649.20H322.10" stroke="#454545" stroke-width="1.15" fill="none"/>
<path d="M56.40,368.70V649.80M321.50,368.70V649.80" stroke="#6a6a6a" stroke-width="1.3" fill="none"/>
<g transform="translate(41.85,673.80) scale(1,1.04)"><path d="M1.47,-7.58L4.50,-10.02V-0.00" stroke="#000" stroke-width="1.35" fill="none" stroke-linejoin="miter"/><text x="8.34" y="0" font-family='"Liberation Sans", sans-serif' font-size="15" fill="#000">0</text><rect x="17.37" y="-11.64" width="3.33" height="0.98" fill="#000"/><text x="20.51" y="-7.50" font-family='"Liberation Sans", sans-serif' font-size="11.5" fill="#000">2</text></g>
<g transform="translate(23.79,658.20) scale(1,1.04)"><path d="M1.47,-7.58L4.50,-10.02V-0.00" stroke="#000" stroke-width="1.35" fill="none" stroke-linejoin="miter"/><text x="8.34" y="0" font-family='"Liberation Sans", sans-serif' font-size="15" fill="#000">0</text><rect x="17.37" y="-11.64" width="3.33" height="0.98" fill="#000"/><text x="20.51" y="-7.50" font-family='"Liberation Sans", sans-serif' font-size="11.5" fill="#000">2</text></g>
<g transform="translate(174.40,673.80) scale(1,1.04)"><path d="M1.47,-7.58L4.50,-10.02V-0.00" stroke="#000" stroke-width="1.35" fill="none" stroke-linejoin="miter"/><text x="8.34" y="0" font-family='"Liberation Sans", sans-serif' font-size="15" fill="#000">0</text><rect x="17.37" y="-11.64" width="3.33" height="0.98" fill="#000"/><path d="M21.64,-13.31L23.96,-15.18V-7.50" stroke="#000" stroke-width="1.03" fill="none" stroke-linejoin="miter"/></g>
<g transform="translate(23.79,554.49) scale(1,1.04)"><path d="M1.47,-7.58L4.50,-10.02V-0.00" stroke="#000" stroke-width="1.35" fill="none" stroke-linejoin="miter"/><text x="8.34" y="0" font-family='"Liberation Sans", sans-serif' font-size="15" fill="#000">0</text><rect x="17.37" y="-11.64" width="3.33" height="0.98" fill="#000"/><path d="M21.64,-13.31L23.96,-15.18V-7.50" stroke="#000" stroke-width="1.03" fill="none" stroke-linejoin="miter"/></g>
<g transform="translate(308.86,673.80) scale(1,1.04)"><path d="M1.47,-7.58L4.50,-10.02V-0.00" stroke="#000" stroke-width="1.35" fill="none" stroke-linejoin="miter"/><text x="8.34" y="0" font-family='"Liberation Sans", sans-serif' font-size="15" fill="#000">0</text><text x="16.68" y="-7.50" font-family='"Liberation Sans", sans-serif' font-size="11.5" fill="#000">0</text></g>
<g transform="translate(27.62,450.79) scale(1,1.04)"><path d="M1.47,-7.58L4.50,-10.02V-0.00" stroke="#000" stroke-width="1.35" fill="none" stroke-linejoin="miter"/><text x="8.34" y="0" font-family='"Liberation Sans", sans-serif' font-size="15" fill="#000">0</text><text x="16.68" y="-7.50" font-family='"Liberation Sans", sans-serif' font-size="11.5" fill="#000">0</text></g>
<g transform="translate(174.95,695.20) scale(1.1,1.0)"><text x="0.12" y="0" font-family='"Liberation Serif", serif' font-style="italic" font-size="21.7" fill="#000" >R</text></g>
<g transform="translate(190.45,695.20) scale(1.07,1.0)"><text x="-1.21" y="0" font-family='"Liberation Serif", serif' font-style="italic" font-size="21.7" fill="#000" >i</text></g>
<g transform="translate(196.25,698.40) scale(1.03,1.0)"><text x="-0.01" y="0" font-family='"Liberation Serif", serif' font-style="italic" font-size="13.5" fill="#000" >g</text></g>
<g transform="translate(15.00,532.40) rotate(-90) scale(1.0)"><g transform="translate(0.00,0.00) scale(1.25,1.0)"><text x="0.24" y="0" font-family='"Liberation Serif", serif' font-style="italic" font-size="20.8" fill="#000" >L</text></g>
<g transform="translate(13.60,3.00) scale(1.12,1.0)"><text x="-0.56" y="0" font-family='"Liberation Serif", serif' font-style="italic" font-size="15" fill="#000" >b</text></g>
<path d="M22.00,4.7 L30.30,-15" stroke="#000" stroke-width="1.15" fill="none"/>
<g transform="translate(32.00,0)"><path d="M9.8,-13.4 C7.5,-13.9 5.6,-12 4.8,-9.6 C4.0,-7 3.2,-4 2.3,-2.2 M2.3,-2.2 C4.5,-1.4 7.5,-0.8 9.3,-1.0 C10.8,-1.2 11.9,-2 12.2,-3.0 M2.3,-2.2 L0.1,-0.4" stroke="#000" stroke-width="1.35" fill="none" stroke-linecap="round"/><ellipse cx="10.6" cy="-12.3" rx="1.4" ry="1.7" fill="#000"/></g></g>
<rect x="75.25" y="561.65" width="5.9" height="5.9" fill="#ff0000"/>
<g transform="translate(93.70,568.60) scale(1.2,1.0)"><text x="-0.76" y="0" font-family='"Liberation Serif", serif' font-style="italic" font-size="13.6" fill="#000" >C</text></g>
<g transform="translate(104.20,568.60) scale(1.2,1.0)"><text x="0.07" y="0" font-family='"Liberation Serif", serif' font-style="italic" font-size="13.6" fill="#000" >R</text></g>
<path d="M118.40,563.20h9.2M118.40,566.70h9.2" stroke="#111" stroke-width="0.85"/>
<text x="131.50" y="568.60" font-family='"Liberation Serif", serif' font-style="normal" font-size="13.6" fill="#000" >1</text>
<g transform="translate(138.70,568.60) scale(1.15,1.0)"><text x="-0.53" y="0" font-family='"Liberation Serif", serif' font-style="normal" font-size="13.6" fill="#000" >e</text></g>
<g transform="translate(145.60,568.60) scale(0.95,1.0)"><text x="-0.50" y="0" font-family='"Liberation Serif", serif' font-style="normal" font-size="13.6" fill="#000" >-</text></g>
<g transform="translate(149.10,568.60) scale(1.05,1.0)"><text x="-0.65" y="0" font-family='"Liberation Serif", serif' font-style="normal" font-size="13.6" fill="#000" >3</text></g>
<polygon points="78.20,577.25 79.31,580.43 82.67,580.50 79.99,582.53 80.96,585.75 78.20,583.83 75.44,585.75 76.41,582.53 73.73,580.50 77.09,580.43" fill="#000"/>
<g transform="translate(93.70,585.55) scale(1.2,1.0)"><text x="-0.76" y="0" font-family='"Liberation Serif", serif' font-style="italic" font-size="13.6" fill="#000" >C</text></g>
<g transform="translate(104.20,585.55) scale(1.2,1.0)"><text x="0.07" y="0" font-family='"Liberation Serif", serif' font-style="italic" font-size="13.6" fill="#000" >R</text></g>
<path d="M118.40,580.15h9.2M118.40,583.65h9.2" stroke="#111" stroke-width="0.85"/>
<text x="132.10" y="585.55" font-family='"Liberation Serif", serif' font-style="normal" font-size="13.6" fill="#000" >2</text>
<g transform="translate(138.70,585.55) scale(1.15,1.0)"><text x="-0.53" y="0" font-family='"Liberation Serif", serif' font-style="normal" font-size="13.6" fill="#000" >e</text></g>
<g transform="translate(145.60,585.55) scale(0.95,1.0)"><text x="-0.50" y="0" font-family='"Liberation Serif", serif' font-style="normal" font-size="13.6" fill="#000" >-</text></g>
<g transform="translate(149.10,585.55) scale(1.05,1.0)"><text x="-0.65" y="0" font-family='"Liberation Serif", serif' font-style="normal" font-size="13.6" fill="#000" >3</text></g>
<circle cx="78.20" cy="598.50" r="3.6" fill="#00ff00"/>
<g transform="translate(93.70,602.50) scale(1.2,1.0)"><text x="-0.76" y="0" font-family='"Liberation Serif", serif' font-style="italic" font-size="13.6" fill="#000" >C</text></g>
<g transform="translate(104.20,602.50) scale(1.2,1.0)"><text x="0.07" y="0" font-family='"Liberation Serif", serif' font-style="italic" font-size="13.6" fill="#000" >R</text></g>
<path d="M118.40,597.10h9.2M118.40,600.60h9.2" stroke="#111" stroke-width="0.85"/>
<text x="132.05" y="602.50" font-family='"Liberation Serif", serif' font-style="normal" font-size="13.6" fill="#000" >3</text>
<g transform="translate(138.70,602.50) scale(1.15,1.0)"><text x="-0.53" y="0" font-family='"Liberation Serif", serif' font-style="normal" font-size="13.6" fill="#000" >e</text></g>
<g transform="translate(145.60,602.50) scale(0.95,1.0)"><text x="-0.50" y="0" font-family='"Liberation Serif", serif' font-style="normal" font-size="13.6" fill="#000" >-</text></g>
<g transform="translate(149.10,602.50) scale(1.05,1.0)"><text x="-0.65" y="0" font-family='"Liberation Serif", serif' font-style="normal" font-size="13.6" fill="#000" >3</text></g>
<polygon points="73.70,618.40 82.70,618.40 78.20,610.30" fill="#0000ff"/>
<g transform="translate(93.70,619.45) scale(1.2,1.0)"><text x="-0.76" y="0" font-family='"Liberation Serif", serif' font-style="italic" font-size="13.6" fill="#000" >C</text></g>
<g transform="translate(104.20,619.45) scale(1.2,1.0)"><text x="0.07" y="0" font-family='"Liberation Serif", serif' font-style="italic" font-size="13.6" fill="#000" >R</text></g>
<path d="M118.40,614.05h9.2M118.40,617.55h9.2" stroke="#111" stroke-width="0.85"/>
<text x="132.43" y="619.45" font-family='"Liberation Serif", serif' font-style="normal" font-size="13.6" fill="#000" >4</text>
<g transform="translate(138.70,619.45) scale(1.15,1.0)"><text x="-0.53" y="0" font-family='"Liberation Serif", serif' font-style="normal" font-size="13.6" fill="#000" >e</text></g>
<g transform="translate(145.60,619.45) scale(0.95,1.0)"><text x="-0.50" y="0" font-family='"Liberation Serif", serif' font-style="normal" font-size="13.6" fill="#000" >-</text></g>
<g transform="translate(149.10,619.45) scale(1.05,1.0)"><text x="-0.65" y="0" font-family='"Liberation Serif", serif' font-style="normal" font-size="13.6" fill="#000" >3</text></g>
<polygon points="73.70,630.00 82.70,630.00 78.20,638.00" fill="#ff00ff"/>
<g transform="translate(93.70,636.40) scale(1.2,1.0)"><text x="-0.76" y="0" font-family='"Liberation Serif", serif' font-style="italic" font-size="13.6" fill="#000" >C</text></g>
<g transform="translate(104.20,636.40) scale(1.2,1.0)"><text x="0.07" y="0" font-family='"Liberation Serif", serif' font-style="italic" font-size="13.6" fill="#000" >R</text></g>
<path d="M118.40,631.00h9.2M118.40,634.50h9.2" stroke="#111" stroke-width="0.85"/>
<text x="131.91" y="636.40" font-family='"Liberation Serif", serif' font-style="normal" font-size="13.6" fill="#000" >5</text>
<g transform="translate(138.70,636.40) scale(1.15,1.0)"><text x="-0.53" y="0" font-family='"Liberation Serif", serif' font-style="normal" font-size="13.6" fill="#000" >e</text></g>
<g transform="translate(145.60,636.40) scale(0.95,1.0)"><text x="-0.50" y="0" font-family='"Liberation Serif", serif' font-style="normal" font-size="13.6" fill="#000" >-</text></g>
<g transform="translate(149.10,636.40) scale(1.05,1.0)"><text x="-0.65" y="0" font-family='"Liberation Serif", serif' font-style="normal" font-size="13.6" fill="#000" >3</text></g>
<polygon points="450.74,505.30 452.76,505.10 461.66,505.78 467.13,505.50 465.51,503.33 466.12,503.06 470.57,503.13 477.65,503.87 487.36,504.28 492.42,504.62 502.54,505.64 512.65,506.66 522.77,507.34 532.18,506.66 536.33,505.91 540.37,506.32 542.80,507.47 540.98,508.36 527.83,511.07 516.40,512.63 509.92,511.82 501.02,511.61 489.18,512.23 487.36,512.23 484.73,511.82 482.30,510.66 476.44,510.26 467.53,509.24 458.73,507.88 451.65,506.66" fill="#ff0000" stroke="#ff0000" stroke-width="1" stroke-linejoin="round"/>
<polygon points="488.07,504.49 493.33,503.87 499.91,504.28 501.63,503.13 504.56,504.28 507.59,503.13 511.03,504.28 514.68,506.25 522.77,507.00 537.95,507.68 550.49,507.88 552.82,508.08 556.16,508.56 560.91,507.81 566.78,509.17 566.27,511.07 558.18,511.41 543.00,513.38 537.44,513.04 528.64,512.23 523.88,512.23 519.74,511.82 516.40,511.82 509.92,510.66 502.84,509.85 492.22,507.07 488.07,505.64" fill="#000000" stroke="#000000" stroke-width="1" stroke-linejoin="round"/>
<polyline points="506.99,506.18 511.64,506.79 514.07,508.29 516.40,508.42 518.72,506.86 521.15,507.88 523.78,509.17 527.83,509.58 534.91,510.60 543.00,511.95 548.06,511.41 558.18,510.73 567.28,510.60 572.34,510.39 575.68,510.80 582.16,510.80" fill="none" stroke="#00ff00" stroke-width="3.5" stroke-linejoin="round" stroke-linecap="round"/>
<polyline points="521.56,506.32 525.60,507.20 531.57,508.02 543.00,510.26 558.18,512.43 568.30,513.31 576.39,513.65 582.46,512.97 586.91,512.57 591.56,512.97 596.12,513.45" fill="none" stroke="#0000ff" stroke-width="3.5" stroke-linejoin="round" stroke-linecap="round"/>
<polyline points="570.93,514.60 579.83,515.42 588.53,516.16 596.42,517.18" fill="none" stroke="#0000ff" stroke-width="2.8" stroke-linejoin="round" stroke-linecap="round"/>
<polyline points="574.37,516.50 579.83,517.79 589.24,518.95" fill="none" stroke="#0000ff" stroke-width="2.8" stroke-linejoin="round" stroke-linecap="round"/>
<polyline points="576.39,519.22 581.55,520.92 588.53,522.27 596.42,524.45" fill="none" stroke="#0000ff" stroke-width="2.8" stroke-linejoin="round" stroke-linecap="round"/>
<polyline points="580.44,523.29 586.91,525.33 593.99,527.71 596.62,528.72" fill="none" stroke="#0000ff" stroke-width="2.8" stroke-linejoin="round" stroke-linecap="round"/>
<polyline points="531.88,509.03 544.02,510.94 554.13,512.16 562.23,513.38" fill="none" stroke="#ff00ff" stroke-width="5.1" stroke-linejoin="round" stroke-linecap="round"/>
<polyline points="554.13,512.16 567.99,512.57 576.39,513.24 584.48,514.19 592.17,514.87 600.77,515.69 607.35,515.42" fill="none" stroke="#ff00ff" stroke-width="3.0" stroke-linejoin="round" stroke-linecap="round"/>
<polyline points="560.20,514.47 573.35,515.82 583.47,517.18 594.70,518.95 600.77,520.10 606.84,521.80" fill="none" stroke="#ff00ff" stroke-width="3.0" stroke-linejoin="round" stroke-linecap="round"/>
<polyline points="560.20,515.82 573.35,517.86 583.47,519.49 592.17,521.80 599.05,524.17 606.84,527.37" fill="none" stroke="#ff00ff" stroke-width="3.0" stroke-linejoin="round" stroke-linecap="round"/>
<polyline points="558.18,516.50 573.35,519.90 583.47,523.02 592.98,525.33 600.77,528.25 610.38,531.98" fill="none" stroke="#ff00ff" stroke-width="3.0" stroke-linejoin="round" stroke-linecap="round"/>
<polyline points="556.16,516.23 565.06,516.37 567.99,517.86 573.86,519.90 579.83,522.21 585.70,525.80 588.63,528.04 592.98,531.44 597.33,531.78 603.40,534.49 612.10,540.60" fill="none" stroke="#ff00ff" stroke-width="3.0" stroke-linejoin="round" stroke-linecap="round"/>
<polyline points="544.52,518.20 552.82,516.98 560.20,515.82 568.30,515.15" fill="none" stroke="#ff00ff" stroke-width="3.0" stroke-linejoin="round" stroke-linecap="round"/>
<path d="M444.51,653.30V651.30M444.51,369.40V371.40M468.15,653.30V651.30M468.15,369.40V371.40M484.93,653.30V651.30M484.93,369.40V371.40M497.94,653.30V651.30M497.94,369.40V371.40M508.57,653.30V651.30M508.57,369.40V371.40M517.55,653.30V651.30M517.55,369.40V371.40M525.34,653.30V651.30M525.34,369.40V371.40M532.21,653.30V651.30M532.21,369.40V371.40M538.35,653.30V650.10M538.35,369.40V372.60M578.76,653.30V651.30M578.76,369.40V371.40M602.40,653.30V651.30M602.40,369.40V371.40M619.18,653.30V651.30M619.18,369.40V371.40M632.19,653.30V651.30M632.19,369.40V371.40M642.82,653.30V651.30M642.82,369.40V371.40M651.80,653.30V651.30M651.80,369.40V371.40M659.59,653.30V651.30M659.59,369.40V371.40M666.46,653.30V651.30M666.46,369.40V371.40M404.10,621.64H406.10M672.60,621.64H670.60M404.10,603.11H406.10M672.60,603.11H670.60M404.10,589.97H406.10M672.60,589.97H670.60M404.10,579.78H406.10M672.60,579.78H670.60M404.10,571.45H406.10M672.60,571.45H670.60M404.10,564.41H406.10M672.60,564.41H670.60M404.10,558.31H406.10M672.60,558.31H670.60M404.10,552.92H406.10M672.60,552.92H670.60M404.10,548.11H407.30M672.60,548.11H669.40M404.10,516.45H406.10M672.60,516.45H670.60M404.10,497.92H406.10M672.60,497.92H670.60M404.10,484.78H406.10M672.60,484.78H670.60M404.10,474.59H406.10M672.60,474.59H670.60M404.10,466.26H406.10M672.60,466.26H670.60M404.10,459.22H406.10M672.60,459.22H670.60M404.10,453.12H406.10M672.60,453.12H670.60M404.10,447.74H406.10M672.60,447.74H670.60M404.10,442.92H407.30M672.60,442.92H669.40M404.10,411.26H406.10M672.60,411.26H670.60M404.10,392.74H406.10M672.60,392.74H670.60M404.10,379.59H406.10M672.60,379.59H670.60" stroke="#454545" stroke-width="1.15" fill="none"/>
<path d="M403.50,369.40H673.20M403.50,653.30H673.20" stroke="#454545" stroke-width="1.15" fill="none"/>
<path d="M404.10,368.80V653.90M672.60,368.80V653.90" stroke="#6a6a6a" stroke-width="1.3" fill="none"/>
<g transform="translate(389.55,677.90) scale(1,1.04)"><path d="M1.47,-7.58L4.50,-10.02V-0.00" stroke="#000" stroke-width="1.35" fill="none" stroke-linejoin="miter"/><text x="8.34" y="0" font-family='"Liberation Sans", sans-serif' font-size="15" fill="#000">0</text><rect x="17.37" y="-11.64" width="3.33" height="0.98" fill="#000"/><text x="20.51" y="-7.50" font-family='"Liberation Sans", sans-serif' font-size="11.5" fill="#000">2</text></g>
<g transform="translate(371.49,662.30) scale(1,1.04)"><path d="M1.47,-7.58L4.50,-10.02V-0.00" stroke="#000" stroke-width="1.35" fill="none" stroke-linejoin="miter"/><text x="8.34" y="0" font-family='"Liberation Sans", sans-serif' font-size="15" fill="#000">0</text><rect x="17.37" y="-11.64" width="3.33" height="0.98" fill="#000"/><text x="20.51" y="-7.50" font-family='"Liberation Sans", sans-serif' font-size="11.5" fill="#000">2</text></g>
<g transform="translate(523.80,677.90) scale(1,1.04)"><path d="M1.47,-7.58L4.50,-10.02V-0.00" stroke="#000" stroke-width="1.35" fill="none" stroke-linejoin="miter"/><text x="8.34" y="0" font-family='"Liberation Sans", sans-serif' font-size="15" fill="#000">0</text><rect x="17.37" y="-11.64" width="3.33" height="0.98" fill="#000"/><path d="M21.64,-13.31L23.96,-15.18V-7.50" stroke="#000" stroke-width="1.03" fill="none" stroke-linejoin="miter"/></g>
<g transform="translate(371.49,557.11) scale(1,1.04)"><path d="M1.47,-7.58L4.50,-10.02V-0.00" stroke="#000" stroke-width="1.35" fill="none" stroke-linejoin="miter"/><text x="8.34" y="0" font-family='"Liberation Sans", sans-serif' font-size="15" fill="#000">0</text><rect x="17.37" y="-11.64" width="3.33" height="0.98" fill="#000"/><path d="M21.64,-13.31L23.96,-15.18V-7.50" stroke="#000" stroke-width="1.03" fill="none" stroke-linejoin="miter"/></g>
<g transform="translate(659.96,677.90) scale(1,1.04)"><path d="M1.47,-7.58L4.50,-10.02V-0.00" stroke="#000" stroke-width="1.35" fill="none" stroke-linejoin="miter"/><text x="8.34" y="0" font-family='"Liberation Sans", sans-serif' font-size="15" fill="#000">0</text><text x="16.68" y="-7.50" font-family='"Liberation Sans", sans-serif' font-size="11.5" fill="#000">0</text></g>
<g transform="translate(375.32,451.92) scale(1,1.04)"><path d="M1.47,-7.58L4.50,-10.02V-0.00" stroke="#000" stroke-width="1.35" fill="none" stroke-linejoin="miter"/><text x="8.34" y="0" font-family='"Liberation Sans", sans-serif' font-size="15" fill="#000">0</text><text x="16.68" y="-7.50" font-family='"Liberation Sans", sans-serif' font-size="11.5" fill="#000">0</text></g>
<g transform="translate(527.01,695.60) scale(1.1,1.0)"><text x="0.09" y="0" font-family='"Liberation Serif", serif' font-style="italic" font-size="17.577" fill="#000" >R</text></g>
<g transform="translate(539.57,695.60) scale(1.07,1.0)"><text x="-0.98" y="0" font-family='"Liberation Serif", serif' font-style="italic" font-size="17.577" fill="#000" >i</text></g>
<g transform="translate(544.26,698.19) scale(1.03,1.0)"><text x="-0.01" y="0" font-family='"Liberation Serif", serif' font-style="italic" font-size="10.935" fill="#000" >g</text></g>
<g transform="translate(364.00,532.30) rotate(-90) scale(0.85)"><g transform="translate(0.00,0.00) scale(1.25,1.0)"><text x="0.24" y="0" font-family='"Liberation Serif", serif' font-style="italic" font-size="20.8" fill="#000" >L</text></g>
<g transform="translate(12.60,3.00) scale(1.12,1.0)"><text x="0.16" y="0" font-family='"Liberation Serif", serif' font-style="italic" font-size="15" fill="#000" >H</text></g>
<path d="M27.00,4.7 L35.30,-15" stroke="#000" stroke-width="1.15" fill="none"/>
<g transform="translate(37.00,0)"><path d="M9.8,-13.4 C7.5,-13.9 5.6,-12 4.8,-9.6 C4.0,-7 3.2,-4 2.3,-2.2 M2.3,-2.2 C4.5,-1.4 7.5,-0.8 9.3,-1.0 C10.8,-1.2 11.9,-2 12.2,-3.0 M2.3,-2.2 L0.1,-0.4" stroke="#000" stroke-width="1.35" fill="none" stroke-linecap="round"/><ellipse cx="10.6" cy="-12.3" rx="1.4" ry="1.7" fill="#000"/></g></g>
<rect x="582.65" y="382.85" width="5.9" height="5.9" fill="#ff0000"/>
<g transform="translate(600.50,389.80) scale(1.2,1.0)"><text x="-0.76" y="0" font-family='"Liberation Serif", serif' font-style="italic" font-size="13.6" fill="#000" >C</text></g>
<g transform="translate(611.00,389.80) scale(1.2,1.0)"><text x="0.07" y="0" font-family='"Liberation Serif", serif' font-style="italic" font-size="13.6" fill="#000" >R</text></g>
<path d="M625.20,384.40h9.2M625.20,387.90h9.2" stroke="#111" stroke-width="0.85"/>
<text x="638.30" y="389.80" font-family='"Liberation Serif", serif' font-style="normal" font-size="13.6" fill="#000" >1</text>
<g transform="translate(645.50,389.80) scale(1.15,1.0)"><text x="-0.53" y="0" font-family='"Liberation Serif", serif' font-style="normal" font-size="13.6" fill="#000" >e</text></g>
<g transform="translate(652.40,389.80) scale(0.95,1.0)"><text x="-0.50" y="0" font-family='"Liberation Serif", serif' font-style="normal" font-size="13.6" fill="#000" >-</text></g>
<g transform="translate(655.90,389.80) scale(1.05,1.0)"><text x="-0.65" y="0" font-family='"Liberation Serif", serif' font-style="normal" font-size="13.6" fill="#000" >3</text></g>
<polygon points="585.60,398.45 586.71,401.63 590.07,401.70 587.39,403.73 588.36,406.95 585.60,405.03 582.84,406.95 583.81,403.73 581.13,401.70 584.49,401.63" fill="#000"/>
<g transform="translate(600.50,406.75) scale(1.2,1.0)"><text x="-0.76" y="0" font-family='"Liberation Serif", serif' font-style="italic" font-size="13.6" fill="#000" >C</text></g>
<g transform="translate(611.00,406.75) scale(1.2,1.0)"><text x="0.07" y="0" font-family='"Liberation Serif", serif' font-style="italic" font-size="13.6" fill="#000" >R</text></g>
<path d="M625.20,401.35h9.2M625.20,404.85h9.2" stroke="#111" stroke-width="0.85"/>
<text x="638.90" y="406.75" font-family='"Liberation Serif", serif' font-style="normal" font-size="13.6" fill="#000" >2</text>
<g transform="translate(645.50,406.75) scale(1.15,1.0)"><text x="-0.53" y="0" font-family='"Liberation Serif", serif' font-style="normal" font-size="13.6" fill="#000" >e</text></g>
<g transform="translate(652.40,406.75) scale(0.95,1.0)"><text x="-0.50" y="0" font-family='"Liberation Serif", serif' font-style="normal" font-size="13.6" fill="#000" >-</text></g>
<g transform="translate(655.90,406.75) scale(1.05,1.0)"><text x="-0.65" y="0" font-family='"Liberation Serif", serif' font-style="normal" font-size="13.6" fill="#000" >3</text></g>
<circle cx="585.60" cy="419.70" r="3.6" fill="#00ff00"/>
<g transform="translate(600.50,423.70) scale(1.2,1.0)"><text x="-0.76" y="0" font-family='"Liberation Serif", serif' font-style="italic" font-size="13.6" fill="#000" >C</text></g>
<g transform="translate(611.00,423.70) scale(1.2,1.0)"><text x="0.07" y="0" font-family='"Liberation Serif", serif' font-style="italic" font-size="13.6" fill="#000" >R</text></g>
<path d="M625.20,418.30h9.2M625.20,421.80h9.2" stroke="#111" stroke-width="0.85"/>
<text x="638.85" y="423.70" font-family='"Liberation Serif", serif' font-style="normal" font-size="13.6" fill="#000" >3</text>
<g transform="translate(645.50,423.70) scale(1.15,1.0)"><text x="-0.53" y="0" font-family='"Liberation Serif", serif' font-style="normal" font-size="13.6" fill="#000" >e</text></g>
<g transform="translate(652.40,423.70) scale(0.95,1.0)"><text x="-0.50" y="0" font-family='"Liberation Serif", serif' font-style="normal" font-size="13.6" fill="#000" >-</text></g>
<g transform="translate(655.90,423.70) scale(1.05,1.0)"><text x="-0.65" y="0" font-family='"Liberation Serif", serif' font-style="normal" font-size="13.6" fill="#000" >3</text></g>
<polygon points="581.10,439.60 590.10,439.60 585.60,431.50" fill="#0000ff"/>
<g transform="translate(600.50,440.65) scale(1.2,1.0)"><text x="-0.76" y="0" font-family='"Liberation Serif", serif' font-style="italic" font-size="13.6" fill="#000" >C</text></g>
<g transform="translate(611.00,440.65) scale(1.2,1.0)"><text x="0.07" y="0" font-family='"Liberation Serif", serif' font-style="italic" font-size="13.6" fill="#000" >R</text></g>
<path d="M625.20,435.25h9.2M625.20,438.75h9.2" stroke="#111" stroke-width="0.85"/>
<text x="639.23" y="440.65" font-family='"Liberation Serif", serif' font-style="normal" font-size="13.6" fill="#000" >4</text>
<g transform="translate(645.50,440.65) scale(1.15,1.0)"><text x="-0.53" y="0" font-family='"Liberation Serif", serif' font-style="normal" font-size="13.6" fill="#000" >e</text></g>
<g transform="translate(652.40,440.65) scale(0.95,1.0)"><text x="-0.50" y="0" font-family='"Liberation Serif", serif' font-style="normal" font-size="13.6" fill="#000" >-</text></g>
<g transform="translate(655.90,440.65) scale(1.05,1.0)"><text x="-0.65" y="0" font-family='"Liberation Serif", serif' font-style="normal" font-size="13.6" fill="#000" >3</text></g>
<polygon points="581.10,451.20 590.10,451.20 585.60,459.20" fill="#ff00ff"/>
<g transform="translate(600.50,457.60) scale(1.2,1.0)"><text x="-0.76" y="0" font-family='"Liberation Serif", serif' font-style="italic" font-size="13.6" fill="#000" >C</text></g>
<g transform="translate(611.00,457.60) scale(1.2,1.0)"><text x="0.07" y="0" font-family='"Liberation Serif", serif' font-style="italic" font-size="13.6" fill="#000" >R</text></g>
<path d="M625.20,452.20h9.2M625.20,455.70h9.2" stroke="#111" stroke-width="0.85"/>
<text x="638.71" y="457.60" font-family='"Liberation Serif", serif' font-style="normal" font-size="13.6" fill="#000" >5</text>
<g transform="translate(645.50,457.60) scale(1.15,1.0)"><text x="-0.53" y="0" font-family='"Liberation Serif", serif' font-style="normal" font-size="13.6" fill="#000" >e</text></g>
<g transform="translate(652.40,457.60) scale(0.95,1.0)"><text x="-0.50" y="0" font-family='"Liberation Serif", serif' font-style="normal" font-size="13.6" fill="#000" >-</text></g>
<g transform="translate(655.90,457.60) scale(1.05,1.0)"><text x="-0.65" y="0" font-family='"Liberation Serif", serif' font-style="normal" font-size="13.6" fill="#000" >3</text></g>
</svg></body></html>
